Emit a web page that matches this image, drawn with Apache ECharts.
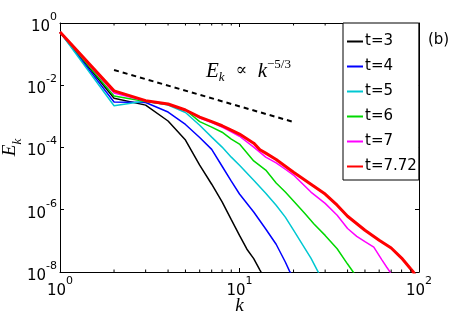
<!DOCTYPE html>
<html>
<head>
<meta charset="utf-8">
<script src="https://cdn.jsdelivr.net/npm/echarts@6/dist/echarts.min.js"></script>
<style>html,body{margin:0;padding:0;background:#fff;}#c{width:463px;height:313px;}</style>
</head>
<body>
<div id="c"></div>
<script>
// ---- data ----
const seriesNames = ['t=3', 't=4', 't=5', 't=6', 't=7', 't=7.72'];

const kT3 = [1, 2, 3, 4, 5, 6, 7, 8, 9, 10, 11, 12, 13, 13.3];
const eT3 = [0.51, 3.8e-3, 2.3e-3, 7.1e-4, 1.74e-4, 2.7e-5, 6.6e-6, 1.8e-6, 4.8e-7, 1.5e-7, 5.4e-8, 2.7e-8, 1.15e-8, 9.1e-9];

const kT4 = [1, 2, 3, 4, 5, 6, 7, 8, 9, 10, 12, 14, 16, 18, 19, 19.6];
const eT4 = [0.51, 2.9e-3, 2.8e-3, 1.38e-3, 5.5e-4, 2.1e-4, 8.7e-5, 2.5e-5, 8.3e-6, 3.2e-6, 8.5e-7, 2.4e-7, 7.8e-8, 2.1e-8, 1.07e-8, 8e-9];

const kT5 = [1, 2, 3, 4, 5, 6, 7, 8, 9, 10, 12, 14, 16, 18, 20, 22, 25, 27, 28];
const eT5 = [0.51, 2.2e-3, 3.1e-3, 2.3e-3, 1.33e-3, 5.2e-4, 2.15e-4, 1.03e-4, 4.9e-5, 2.7e-5, 8.9e-6, 3.4e-6, 1.4e-6, 5.8e-7, 2.2e-7, 9.1e-8, 2.8e-8, 1.2e-8, 8e-9];

const kT6 = [1, 2, 3, 4, 5, 6, 7, 8, 9, 10, 12, 14, 16, 18, 20, 23, 26, 30, 35, 40, 43, 44];
const eT6 = [0.51, 4.5e-3, 3.0e-3, 2.4e-3, 1.6e-3, 6.8e-4, 4.5e-4, 3.1e-4, 1.86e-4, 1.29e-4, 3.7e-5, 1.88e-5, 7.2e-6, 3.7e-6, 1.9e-6, 7.8e-7, 3.5e-7, 1.5e-7, 5.6e-8, 1.8e-8, 1.0e-8, 8e-9];

const kT7 = [1, 2, 3, 4, 5, 6, 7, 8, 9, 10, 12, 14, 16, 18, 20, 25, 30, 35, 40, 45, 50, 56, 62, 66, 69, 70];
const eT7 = [0.51, 5.6e-3, 3.1e-3, 2.4e-3, 1.6e-3, 8.9e-4, 6.3e-4, 4.5e-4, 3.2e-4, 2.3e-4, 1.03e-4, 4.9e-5, 3.2e-5, 2.0e-5, 1.3e-5, 3.7e-6, 1.6e-6, 6.7e-7, 2.5e-7, 1.4e-7, 9.4e-8, 6.3e-8, 2.5e-8, 1.45e-8, 1.0e-8, 8e-9];

const kT772 = [1, 2, 3, 4, 5, 6, 7, 8, 9, 10, 12, 13, 14, 16, 18, 20, 25, 30, 35, 40, 50, 60, 70, 80, 90, 93, 95];
const eT772 = [0.51, 6.6e-3, 3.2e-3, 2.5e-3, 1.6e-3, 9.5e-4, 6.8e-4, 5.0e-4, 3.6e-4, 2.7e-4, 1.38e-4, 8.5e-5, 6.6e-5, 4.1e-5, 2.5e-5, 1.6e-5, 6.6e-6, 3.2e-6, 1.4e-6, 6.2e-7, 2.2e-7, 1.05e-7, 5.9e-8, 2.8e-8, 1.25e-8, 1.0e-8, 8e-9];

// reference slope line E ~ k^(-5/3)
const refK = [2, 20];
const refE = [0.031, 6.6e-4];

// minor tick positions on the log k axis
const minorTicksK = [2, 3, 4, 5, 6, 7, 8, 9, 20, 30, 40, 50, 60, 70, 80, 90];

// ---- styles ----
const colors = ['#000000', '#0000ff', '#00c8d2', '#00d800', '#ff00ff', '#ff0000'];
const widths = [1.5, 1.5, 1.5, 1.5, 1.5, 3];
const ks = [kT3, kT4, kT5, kT6, kT7, kT772];
const es = [eT3, eT4, eT5, eT6, eT7, eT772];

const zip = (a, b) => a.map((v, i) => [v, b[i]]);

const labelRich = {
  b: { fontFamily: 'DejaVu Sans', fontSize: 15, lineHeight: 23, verticalAlign: 'bottom', color: '#000' },
  s: { fontFamily: 'DejaVu Sans', fontSize: 11, lineHeight: 23, verticalAlign: 'top', color: '#000' }
};
const powFmt = (v) => {
  const e = Math.round(Math.log10(v));
  return '{b|10}{s|' + e + '}';
};

const series = ks.map((k, i) => ({
  name: seriesNames[i],
  type: 'line',
  data: zip(k, es[i]),
  symbol: 'none',
  smooth: false,
  color: colors[i],
  lineStyle: { color: colors[i], width: widths[i] },
  z: 3 + i,
  animation: false
}));

series.push({
  name: 'ref',
  type: 'line',
  data: zip(refK, refE),
  symbol: 'none',
  lineStyle: { color: '#000', width: 2, type: [5, 4] },
  animation: false,
  z: 2
});

series.push({
  name: 'minor',
  type: 'custom',
  data: minorTicksK.map(k => [k, 1]),
  silent: true,
  clip: false,
  animation: false,
  z: 10,
  renderItem: function (params, api) {
    const k = api.value(0);
    const pb = api.coord([k, 1e-8]);
    const pt = api.coord([k, 1]);
    return {
      type: 'group',
      children: [
        { type: 'line', shape: { x1: pb[0], y1: pb[1], x2: pb[0], y2: pb[1] - 2.5 }, style: { stroke: '#000', lineWidth: 1 } },
        { type: 'line', shape: { x1: pt[0], y1: pt[1], x2: pt[0], y2: pt[1] + 2.5 }, style: { stroke: '#000', lineWidth: 1 } }
      ]
    };
  }
});

const chart = echarts.init(document.getElementById('c'), null, { renderer: 'canvas' });
chart.setOption({
  animation: false,
  backgroundColor: '#fff',
  grid: { left: 60, right: 44, top: 23, bottom: 41, containLabel: false, outerBoundsMode: 'none' },
  xAxis: [{
    type: 'log', logBase: 10, min: 1, max: 100, position: 'bottom',
    axisLine: { lineStyle: { color: '#000', width: 1 } },
    axisTick: { inside: true, length: 4, lineStyle: { color: '#000' } },
    splitLine: { show: false },
    axisLabel: { formatter: powFmt, rich: labelRich, margin: 4 },
    name: 'k', nameLocation: 'middle', nameGap: 24, nameMoveOverlap: false,
    nameTextStyle: { fontFamily: 'Liberation Serif', fontStyle: 'italic', fontSize: 19, color: '#000' }
  }, {
    type: 'log', logBase: 10, min: 1, max: 100, position: 'top',
    axisLine: { lineStyle: { color: '#000', width: 1 } },
    axisTick: { inside: true, length: 4, lineStyle: { color: '#000' } },
    splitLine: { show: false },
    axisLabel: { show: false }
  }],
  yAxis: [{
    type: 'log', logBase: 10, min: 1e-8, max: 1, interval: 2, position: 'left',
    axisLine: { lineStyle: { color: '#000', width: 1 } },
    axisTick: { inside: true, length: 4, lineStyle: { color: '#000' } },
    splitLine: { show: false },
    axisLabel: { formatter: powFmt, rich: labelRich, margin: 3 },
    name: '{i|E}{sub|k}', nameLocation: 'middle', nameGap: 36, nameRotate: 90, nameMoveOverlap: false,
    nameTextStyle: {
      rich: {
        i: { fontFamily: 'Liberation Serif', fontStyle: 'italic', fontSize: 19, lineHeight: 24, verticalAlign: 'top', color: '#000' },
        sub: { fontFamily: 'Liberation Serif', fontStyle: 'italic', fontSize: 13, lineHeight: 24, verticalAlign: 'bottom', color: '#000' }
      }
    }
  }, {
    type: 'log', logBase: 10, min: 1e-8, max: 1, interval: 2, position: 'right',
    axisLine: { lineStyle: { color: '#000', width: 1 } },
    axisTick: { inside: true, length: 4, lineStyle: { color: '#000' } },
    splitLine: { show: false },
    axisLabel: { show: false }
  }],
  legend: {
    data: seriesNames,
    orient: 'vertical',
    left: 343, top: 23,
    padding: [11, 2, 6, 3],
    itemGap: 10,
    itemWidth: 16,
    itemHeight: 14,
    borderColor: '#000',
    borderWidth: 1,
    backgroundColor: '#fff',
    selectedMode: false,
    itemStyle: { opacity: 0 },
    textStyle: { fontFamily: 'DejaVu Sans', fontSize: 15, color: '#000', padding: [0, 0, 0, -3] },
    z: 20
  },
  graphic: [{
    type: 'text', left: 428, top: 33, z: 30,
    style: { text: '(b)', fontFamily: 'DejaVu Sans', fontSize: 15, fill: '#000' }
  }, {
    type: 'text', left: 206, top: 58, z: 30,
    style: {
      text: '{i|E}{sub|k}{o|  ∝  }{i|k}{sup|−5/3}',
      rich: {
        i: { fontFamily: 'Liberation Serif', fontStyle: 'italic', fontSize: 21, lineHeight: 26, verticalAlign: 'middle', fill: '#000' },
        sub: { fontFamily: 'Liberation Serif', fontStyle: 'italic', fontSize: 13, lineHeight: 26, verticalAlign: 'bottom', fill: '#000' },
        o: { fontFamily: 'DejaVu Serif', fontSize: 17, lineHeight: 26, verticalAlign: 'middle', fill: '#000' },
        sup: { fontFamily: 'Liberation Serif', fontSize: 13, lineHeight: 26, verticalAlign: 'top', fill: '#000' }
      }
    }
  }],
  series: series
});
</script>
</body>
</html>
